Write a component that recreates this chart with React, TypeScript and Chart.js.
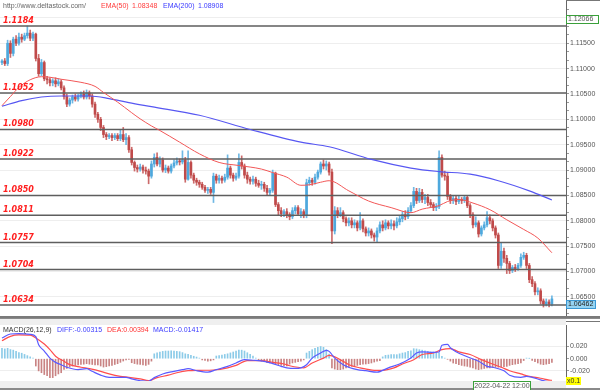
import React, { useEffect, useRef } from 'react';
import { Chart, registerables } from 'chart.js';
Chart.register(...registerables);

// ---- price data (in 1/10000 units, e.g. 11115 = 1.1115) ----
const opens = [11112,11115,11110,11150,11130,11158,11150,11162,11158,11165,
 11170,11160,11168,11120,11090,11112,11080,11078,11072,11076,
 11070,11074,11062,11045,11030,11038,11044,11040,11046,11050,
 11044,11052,11046,11030,11010,11000,10984,10970,10966,10968,
 10964,10968,10962,10970,10960,10964,10940,10915,10905,10902,
 10906,10900,10898,10888,10912,10925,10912,10920,10900,10904,
 10898,10908,10914,10918,10916,10920,10882,10915,10890,10880,
 10876,10872,10866,10860,10862,10856,10888,10880,10884,10880,
 10886,10904,10890,10884,10888,10915,10908,10890,10882,10878,
 10882,10874,10870,10872,10864,10856,10860,10894,10832,10820,
 10814,10818,10812,10808,10820,10826,10814,10818,10810,10875,
 10880,10876,10886,10896,10912,10908,10912,10896,10780,10820,
 10812,10816,10804,10796,10800,10792,10796,10786,10800,10784,
 10776,10780,10772,10768,10780,10792,10786,10796,10790,10794,
 10790,10798,10804,10812,10808,10820,10830,10858,10840,10856,
 10842,10846,10836,10832,10826,10828,10925,10890,10888,10848,
 10840,10844,10838,10842,10840,10846,10830,10812,10792,10796,
 10774,10786,10792,10806,10800,10786,10772,10712,10740,10726,
 10716,10702,10708,10706,10712,10728,10732,10712,10684,10676,
 10660,10662,10642,10636,10640,10636];
const closes = [11115,11110,11150,11130,11158,11150,11162,11158,11165,11170,
 11160,11168,11120,11090,11112,11080,11078,11072,11076,11070,
 11074,11062,11045,11030,11038,11044,11040,11046,11050,11044,
 11052,11046,11030,11010,11000,10984,10970,10966,10968,10964,
 10968,10962,10970,10960,10964,10940,10915,10905,10902,10906,
 10900,10898,10888,10912,10925,10912,10920,10900,10904,10898,
 10908,10914,10918,10916,10920,10882,10915,10890,10880,10876,
 10872,10866,10860,10862,10856,10888,10880,10884,10880,10886,
 10904,10890,10884,10888,10915,10908,10890,10882,10878,10882,
 10874,10870,10872,10864,10856,10860,10894,10832,10820,10814,
 10818,10812,10808,10820,10826,10814,10818,10810,10875,10880,
 10876,10886,10896,10912,10908,10912,10896,10780,10820,10812,
 10816,10804,10796,10800,10792,10796,10786,10800,10784,10776,
 10780,10772,10768,10780,10792,10786,10796,10790,10794,10790,
 10798,10804,10812,10808,10820,10830,10858,10840,10856,10842,
 10846,10836,10832,10826,10828,10925,10890,10888,10848,10840,
 10844,10838,10842,10840,10846,10830,10812,10792,10796,10774,
 10786,10792,10806,10800,10786,10772,10712,10740,10726,10716,
 10702,10708,10706,10712,10728,10732,10712,10684,10676,10660,
 10662,10642,10636,10640,10636,10646];
const highs = [11118,11120,11156,11155,11162,11165,11170,11168,11170,11184,
 11176,11172,11170,11128,11118,11115,11085,11082,11080,11082,
 11080,11078,11066,11050,11042,11048,11050,11050,11054,11056,
 11058,11056,11050,11034,11014,11004,10988,10974,10972,10972,
 10972,10972,10980,10984,10972,10968,10945,10918,10910,10912,
 10910,10906,10902,10918,10932,10934,10926,10924,10910,10908,
 10912,10920,10924,10922,10938,10925,10938,10918,10894,10884,
 10880,10876,10870,10866,10866,10894,10892,10890,10888,10892,
 10930,10908,10894,10894,10932,10928,10912,10896,10886,10888,
 10886,10880,10878,10876,10870,10864,10900,10896,10836,10826,
 10822,10824,10816,10826,10830,10830,10824,10822,10882,10886,
 10884,10892,10900,10916,10920,10918,10916,10902,10828,10826,
 10826,10820,10808,10806,10806,10802,10800,10816,10804,10788,
 10786,10784,10776,10786,10798,10800,10802,10800,10802,10800,
 10806,10810,10818,10820,10826,10836,10866,10864,10864,10862,
 10852,10852,10842,10836,10834,10938,10930,10898,10894,10852,
 10850,10848,10848,10846,10850,10850,10834,10816,10808,10800,
 10790,10798,10818,10812,10804,10790,10776,10756,10746,10732,
 10720,10712,10714,10716,10735,10738,10736,10716,10690,10680,
 10668,10666,10646,10646,10644,10652];
const lows = [11108,11106,11106,11122,11125,11145,11146,11152,11155,11160,
 11155,11155,11115,11085,11086,11076,11070,11066,11066,11064,
 11066,11058,11040,11025,11026,11032,11036,11036,11042,11040,
 11040,11040,11024,11004,10994,10978,10964,10960,10962,10958,
 10960,10958,10958,10956,10950,10935,10910,10898,10896,10898,
 10894,10892,10873,10884,10906,10908,10906,10896,10895,10894,
 10894,10904,10910,10910,10912,10876,10880,10884,10874,10870,
 10866,10862,10856,10854,10852,10836,10874,10874,10874,10876,
 10882,10884,10878,10880,10884,10902,10884,10874,10872,10872,
 10868,10866,10862,10858,10850,10850,10856,10828,10812,10808,
 10808,10806,10802,10804,10814,10810,10806,10806,10806,10870,
 10870,10872,10882,10892,10902,10900,10890,10755,10774,10806,
 10808,10798,10790,10790,10786,10786,10780,10782,10778,10770,
 10770,10766,10760,10758,10776,10780,10782,10784,10784,10782,
 10786,10792,10798,10802,10804,10816,10826,10834,10836,10836,
 10834,10830,10826,10820,10820,10824,10886,10880,10842,10834,
 10834,10832,10834,10834,10836,10826,10806,10786,10788,10768,
 10770,10782,10788,10794,10780,10766,10706,10706,10718,10696,
 10696,10698,10700,10702,10708,10724,10706,10678,10670,10654,
 10654,10636,10630,10632,10630,10632];
const PRICE_UNIT = 10000;

// ---- moving averages (sampled at candle indices) ----
const ema50Idx = [0,3,6,10,14,17,21,28,33,36,41,46,49,53,56,63,70,77,84,92,96,101,106,109,113,116,123,130,138,145,149,155,158,162,167,173,179,185,190,195];
const ema50 = [1.1027,1.1045,1.1063,1.1078,1.1084,1.1083,1.1079,1.1073,1.1065,1.1053,1.1034,1.1013,1.1001,1.0987,1.0978,1.0955,1.0932,1.0915,1.0909,1.0902,1.0895,1.0886,1.0870,1.0871,1.0876,1.0879,1.0859,1.0839,1.0826,1.0816,1.0823,1.0830,1.0838,1.0842,1.0835,1.0822,1.0802,1.0783,1.0766,1.0737];
const ema200Idx = [0,7,14,21,31,38,45,53,70,88,106,116,131,145,155,166,176,187,195];
const ema200 = [1.1026,1.1037,1.1044,1.1046,1.1046,1.1041,1.1033,1.1025,1.1008,1.0980,1.0955,1.0946,1.0921,1.0904,1.0897,1.0892,1.0879,1.0859,1.0841];

// ---- horizontal levels ----
const levels = [1.1184, 1.1052, 1.0980, 1.0922, 1.0850, 1.0811, 1.0757, 1.0704, 1.0634];
const levelLabels = ['1.1184', '1.1052', '1.0980', '1.0922', '1.0850', '1.0811', '1.0757', '1.0704', '1.0634'];

// ---- MACD ----
const diffIdx = [0,3,6,10,12,13,15,17,19,21,23,27,30,32,35,38,42,44,46,49,52,54,57,61,64,66,69,73,76,80,83,86,89,93,96,99,101,104,106,108,110,113,115,116,118,121,126,129,133,137,141,145,147,149,153,155,156,158,159,161,165,169,172,174,178,180,184,186,188,191,193,195];
const diffVals = [0.034,0.0405,0.041,0.040,0.036,0.023,0.0126,0.001,-0.006,-0.0098,-0.014,-0.018,-0.0164,-0.0207,-0.027,-0.0305,-0.0305,-0.0305,-0.033,-0.036,-0.037,-0.031,-0.025,-0.0207,-0.018,-0.0164,-0.0197,-0.022,-0.018,-0.0125,-0.007,-0.0016,-0.0025,-0.0043,-0.008,-0.0125,-0.015,-0.016,-0.015,-0.0098,0.001,0.0094,0.0138,0.012,0.001,-0.0098,-0.018,-0.0197,-0.022,-0.015,-0.0087,0.001,0.0094,0.0113,0.0105,0.011,0.022,0.0234,0.018,0.0113,0.0031,-0.0043,-0.0125,-0.014,-0.0197,-0.027,-0.0305,-0.029,-0.0305,-0.0347,-0.037,-0.038];
const deaIdx = [0,3,6,10,12,15,17,19,22,24,28,31,35,38,42,45,49,52,55,59,62,66,70,75,80,83,87,92,96,100,102,107,110,114,116,120,123,127,132,135,139,142,146,149,153,156,159,162,166,170,173,177,180,184,187,191,194,195];
const deaVals = [0.0295,0.0367,0.039,0.0385,0.034,0.024,0.0148,0.004,-0.0043,-0.0098,-0.014,-0.0164,-0.0207,-0.025,-0.029,-0.0305,-0.033,-0.036,-0.031,-0.027,-0.023,-0.0197,-0.019,-0.0185,-0.015,-0.011,-0.0031,-0.0031,-0.006,-0.0087,-0.0115,-0.015,-0.007,0.001,0.0053,-0.0016,-0.0098,-0.015,-0.019,-0.019,-0.015,-0.0087,-0.0016,0.0068,0.0094,0.015,0.0166,0.0113,0.0068,-0.0016,-0.007,-0.014,-0.0197,-0.025,-0.029,-0.032,-0.035,-0.0355];
const macdHist = [0.017,0.016,0.017,0.015,0.014,0.012,0.010,0.009,0.007,0.005,
 0.003,0.001,-0.012,-0.020,-0.023,-0.026,-0.028,-0.031,-0.031,-0.028,
 -0.025,-0.023,-0.0175,-0.016,-0.0137,-0.012,-0.011,-0.010,-0.0093,-0.009,
 -0.0082,-0.009,-0.0095,-0.010,-0.0104,-0.012,-0.0137,-0.013,-0.012,-0.011,
 -0.0095,-0.0082,-0.006,-0.0038,-0.002,-0.001,-0.0066,-0.008,-0.009,-0.0093,
 -0.010,-0.011,-0.0093,-0.004,0.008,0.0095,0.011,0.012,0.0126,0.0126,
 0.013,0.0126,0.012,0.0115,0.010,0.008,0.007,0.0055,0.004,0.0027,
 0.001,-0.002,-0.003,-0.004,-0.0035,-0.002,0.0044,0.005,0.006,0.007,
 0.008,0.0095,0.011,0.0125,0.014,0.014,0.0126,0.0098,0.007,0.0044,
 0.001,-0.002,-0.004,-0.005,-0.0066,-0.007,-0.008,-0.0093,-0.010,-0.011,
 -0.012,-0.012,-0.009,-0.007,-0.006,-0.005,-0.004,-0.002,0.0093,0.012,
 0.0148,0.017,0.0186,0.020,0.0186,0.0148,0.0077,-0.0153,-0.017,-0.018,
 -0.018,-0.017,-0.0153,-0.014,-0.0126,-0.012,-0.011,-0.0098,-0.009,-0.0087,
 -0.008,-0.007,-0.0055,-0.004,-0.0033,0.003,0.0055,0.006,0.0066,0.0066,
 0.0066,0.008,0.0093,0.010,0.012,0.013,0.0164,0.016,0.0148,0.014,
 0.013,0.012,0.011,0.011,0.010,0.0098,0.004,0.001,-0.001,-0.004,
 -0.0071,-0.008,-0.0098,-0.011,-0.012,-0.0126,-0.014,-0.0153,-0.017,-0.018,
 -0.017,-0.016,-0.0153,-0.015,-0.0145,-0.0142,-0.014,-0.0135,-0.013,-0.0126,
 -0.011,-0.0098,-0.009,-0.008,-0.0071,-0.003,0.001,0.0005,-0.003,-0.005,
 -0.007,-0.009,-0.0098,-0.009,-0.008,-0.006];

// ---- axis ticks & labels ----
const priceMajorTicks = [1.065, 1.07, 1.075, 1.08, 1.085, 1.09, 1.095, 1.1, 1.105, 1.11, 1.115, 1.12];
const macdTicks = [0.02, 0, -0.02];
const markPrice = 1.12066;
const lastPrice = 1.06462;
const dateLabel = '2022-04-22 12:00';
const siteLabel = 'http://www.deltastock.com/';
const ema50Value = '1.08348';
const ema200Value = '1.08908';
const diffText = 'DIFF:-0.00315';
const deaText = 'DEA:0.00394';
const macdText = 'MACD:-0.01417';

// ---- layout constants ----
const X_MIN = -0.7, X_MAX = 200;
const P_MAX = 1.123525, P_MIN = 1.06084;
const M_MAX = 0.05525, M_MIN = -0.03656;
const AXIS_W = 34;
const FONT = '"Liberation Sans", Arial, sans-serif';
const BULL = '#4ea8dd', BEAR = '#c04a4a';

const minorStep = 0.005 / 3;
const isMajor = (v: number) => Math.abs(v / 0.005 - Math.round(v / 0.005)) < 1e-4;

export default function App() {
  const mainRef = useRef<HTMLCanvasElement>(null);
  const macdRef = useRef<HTMLCanvasElement>(null);

  useEffect(() => {
    Chart.defaults.font.family = FONT;
    const idx = closes.map((_, i) => i);
    const bodyColors = idx.map(i => (closes[i] >= opens[i] ? BULL : BEAR));
    const wickColors = idx.map(i => (closes[i] >= opens[i] ? '#6fb8e4' : '#cc6a6a'));

    const axisTicks: number[] = [];
    for (let k = -4; k <= 40; k++) {
      const v = priceMajorTicks[0] + k * minorStep;
      if (v > P_MIN && v < P_MAX) axisTicks.push(v);
    }

    const mainOverlay = {
      id: 'mainOverlay',
      afterDatasetsDraw(chart: any) {
        const { ctx } = chart;
        const y = chart.scales.y;
        ctx.save();
        ctx.font = 'italic bold 8px "DejaVu Sans", sans-serif';
        ctx.fillStyle = '#ff1f1f';
        ctx.textBaseline = 'alphabetic';
        ctx.textAlign = 'left';
        levels.forEach((l, k) => {
          ctx.fillText(levelLabels[k], 3, Math.round(y.getPixelForValue(l)) - 3);
        });
        ctx.restore();
      },
      afterDraw(chart: any) {
        const { ctx } = chart;
        const y = chart.scales.y;
        ctx.save();
        ctx.font = `7px ${FONT}`;
        ctx.textBaseline = 'middle';
        ctx.textAlign = 'left';
        ctx.fillStyle = '#666';
        ctx.fillText(siteLabel, 3, 6);
        ctx.fillStyle = '#ff3b3b';
        ctx.fillText('EMA(50)', 101, 6);
        ctx.fillText(ema50Value, 132, 6);
        ctx.fillStyle = '#3b3bff';
        ctx.fillText('EMA(200)', 163, 6);
        ctx.fillText(ema200Value, 198, 6);

        // top-right corner line
        ctx.fillStyle = '#777';
        ctx.fillRect(566, 0, 34, 1);

        // mark price box
        const t1 = Math.round(y.getPixelForValue(markPrice));
        ctx.fillStyle = '#ffffff';
        ctx.fillRect(566, t1, 33, 9);
        ctx.strokeStyle = '#3aa03a';
        ctx.lineWidth = 1;
        ctx.strokeRect(566.5, t1 + 0.5, 32, 8);
        ctx.fillStyle = '#555';
        ctx.fillText(markPrice.toFixed(5), 568, t1 + 4.5);

        // last price box
        const t2 = Math.round(y.getPixelForValue(lastPrice)) + 1;
        ctx.fillStyle = '#95d4f3';
        ctx.fillRect(566, t2, 30, 9);
        ctx.strokeStyle = '#3b98d4';
        ctx.strokeRect(566.5, t2 + 0.5, 29, 8);
        ctx.fillStyle = '#222';
        ctx.fillText(lastPrice.toFixed(5), 568, t2 + 4.5);

        // bottom separator
        ctx.fillStyle = '#7a7a7a';
        ctx.fillRect(0, 316, 600, 2);
        ctx.restore();
      },
    };

    const main = new Chart(mainRef.current as HTMLCanvasElement, {
      type: 'bar',
      data: {
        datasets: [
          {
            type: 'line', label: 'EMA50',
            data: ema50Idx.map((x, k) => ({ x, y: ema50[k] })),
            borderColor: '#f25757', borderWidth: 1, pointRadius: 0,
            cubicInterpolationMode: 'monotone', order: 0,
          },
          {
            type: 'line', label: 'EMA200',
            data: ema200Idx.map((x, k) => ({ x, y: ema200[k] })),
            borderColor: '#5757f2', borderWidth: 1.2, pointRadius: 0,
            cubicInterpolationMode: 'monotone', order: 0,
          },
          ...levels.map((l) => ({
            type: 'line', label: 'lvl',
            data: [{ x: X_MIN, y: l }, { x: X_MAX, y: l }],
            borderColor: '#5e5e5e', borderWidth: 1.5, pointRadius: 0, order: 1,
          })),
          {
            type: 'bar', label: 'body',
            data: idx.map(i => ({ x: i, y: [opens[i] / PRICE_UNIT, closes[i] / PRICE_UNIT] })),
            backgroundColor: bodyColors, barThickness: 2, minBarLength: 1,
            grouped: false, order: 2,
          },
          {
            type: 'bar', label: 'wick',
            data: idx.map(i => ({ x: i, y: [lows[i] / PRICE_UNIT, highs[i] / PRICE_UNIT] })),
            backgroundColor: wickColors, barThickness: 1,
            grouped: false, order: 3,
          },
        ] as any,
      },
      options: {
        animation: false,
        responsive: false,
        devicePixelRatio: 1,
        events: [],
        layout: { padding: 0 },
        plugins: { legend: { display: false }, tooltip: { enabled: false } },
        scales: {
          x: { type: 'linear', min: X_MIN, max: X_MAX, display: false, offset: false },
          y: {
            type: 'linear', position: 'right', min: P_MIN, max: P_MAX,
            afterBuildTicks: (s: any) => { s.ticks = axisTicks.map(v => ({ value: v })); },
            afterFit: (s: any) => { s.width = AXIS_W; s.paddingTop = 0; s.paddingBottom = 0; },
            grid: {
              color: (c: any) => (c.tick && isMajor(c.tick.value) ? '#eeeeee' : 'rgba(0,0,0,0)'),
              tickColor: '#999', tickLength: 3, lineWidth: 1,
            },
            border: { display: true, color: '#666', width: 1 },
            ticks: {
              autoSkip: false, padding: 1, color: '#555',
              font: { size: 7, family: FONT },
              callback: (v: any) => (isMajor(Number(v)) ? Number(v).toFixed(5) : ''),
            },
          },
        },
      } as any,
      plugins: [mainOverlay],
    });

    const macdOverlay = {
      id: 'macdOverlay',
      afterDraw(chart: any) {
        const { ctx } = chart;
        ctx.save();
        // separators
        ctx.fillStyle = '#8a8a8a';
        ctx.fillRect(0, 0, 600, 1);
        ctx.fillStyle = '#efefef';
        ctx.fillRect(0, 1, 566, 6);
        ctx.fillStyle = '#efefef';
        ctx.fillRect(0, 63, 566, 7);
        ctx.fillStyle = '#8a8a8a';
        ctx.fillRect(0, 70, 600, 2);
        ctx.fillStyle = '#777';
        ctx.fillRect(566, 3, 34, 1);

        ctx.font = `7px ${FONT}`;
        ctx.textBaseline = 'middle';
        ctx.textAlign = 'left';
        ctx.fillStyle = '#333';
        ctx.fillText('MACD(26,12,9)', 3, 12);
        ctx.fillStyle = '#3b3bff';
        ctx.fillText(diffText, 57, 12);
        ctx.fillStyle = '#ff3030';
        ctx.fillText(deaText, 107, 12);
        ctx.fillStyle = '#3b3bff';
        ctx.fillText(macdText, 153, 12);

        // x0.1 box
        ctx.fillStyle = '#ffff00';
        ctx.fillRect(566, 59, 15, 8);
        ctx.fillStyle = '#333';
        ctx.fillText('x0.1', 567, 63.5);

        // date box
        ctx.fillStyle = '#ffffff';
        ctx.fillRect(473, 63, 58, 9);
        ctx.strokeStyle = '#3aa03a';
        ctx.lineWidth = 1;
        ctx.strokeRect(473.5, 63.5, 57, 9);
        ctx.fillStyle = '#555';
        ctx.textAlign = 'center';
        ctx.fillText(dateLabel, 502, 68);
        ctx.restore();
      },
    };

    const macd = new Chart(macdRef.current as HTMLCanvasElement, {
      type: 'bar',
      data: {
        datasets: [
          {
            type: 'line', label: 'DIFF',
            data: diffIdx.map((x, k) => ({ x, y: diffVals[k] })),
            borderColor: '#5a5aff', borderWidth: 1.2, pointRadius: 0,
            cubicInterpolationMode: 'monotone', order: 0,
          },
          {
            type: 'line', label: 'DEA',
            data: deaIdx.map((x, k) => ({ x, y: deaVals[k] })),
            borderColor: '#ff4d4d', borderWidth: 1.2, pointRadius: 0,
            cubicInterpolationMode: 'monotone', order: 0,
          },
          {
            type: 'bar', label: 'MACD',
            data: macdHist.map((v, i) => ({ x: i, y: v })),
            backgroundColor: macdHist.map(v => (v >= 0 ? '#8ccbe8' : '#c98383')),
            barThickness: 1, grouped: false, order: 2,
          },
        ] as any,
      },
      options: {
        animation: false,
        responsive: false,
        devicePixelRatio: 1,
        events: [],
        layout: { padding: { top: 7, bottom: 9, left: 0, right: 0 } },
        plugins: { legend: { display: false }, tooltip: { enabled: false } },
        scales: {
          x: { type: 'linear', min: X_MIN, max: X_MAX, display: false, offset: false },
          y: {
            type: 'linear', position: 'right', min: M_MIN, max: M_MAX,
            afterBuildTicks: (s: any) => { s.ticks = macdTicks.map(v => ({ value: v })); },
            afterFit: (s: any) => { s.width = AXIS_W; s.paddingTop = 0; s.paddingBottom = 0; },
            grid: {
              color: (c: any) => (c.tick && c.tick.value !== 0 ? '#eeeeee' : 'rgba(0,0,0,0)'),
              tickColor: '#999', tickLength: 3, lineWidth: 1,
            },
            border: { display: true, color: '#666', width: 1 },
            ticks: {
              autoSkip: false, padding: 1, color: '#555',
              font: { size: 7, family: FONT },
              callback: (v: any) => Number(v).toFixed(3),
            },
          },
        },
      } as any,
      plugins: [macdOverlay],
    });

    return () => { main.destroy(); macd.destroy(); };
  }, []);

  return (
    <div style={{ position: 'absolute', left: 0, top: 0, width: 600, height: 390, background: '#fff', overflow: 'hidden' }}>
      <canvas ref={mainRef} width={600} height={318} style={{ position: 'absolute', left: 0, top: 0, width: 600, height: 318 }} />
      <canvas ref={macdRef} width={600} height={72} style={{ position: 'absolute', left: 0, top: 318, width: 600, height: 72 }} />
    </div>
  );
}
